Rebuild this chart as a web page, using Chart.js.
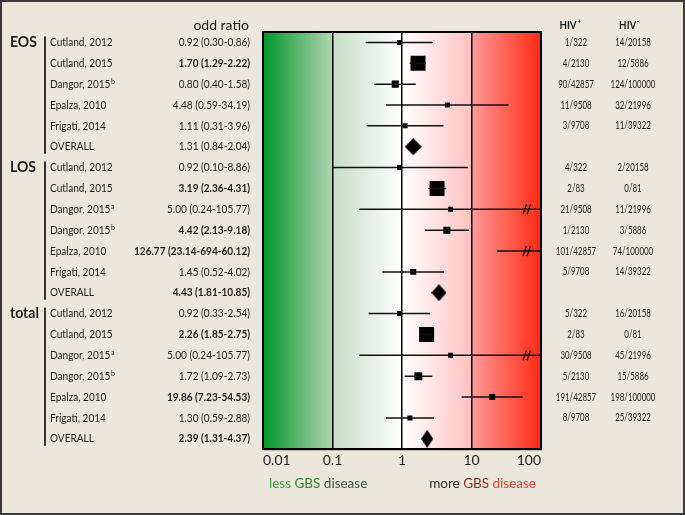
<!DOCTYPE html>
<html><head><meta charset="utf-8">
<script src="https://cdn.jsdelivr.net/npm/chart.js@4.4.1/dist/chart.umd.min.js"></script>
<style>html,body{margin:0;padding:0;background:#ebe7da;}#wrap{width:685px;height:515px;position:relative;}</style>
</head><body><div id="wrap"><canvas id="c" width="685" height="515"></canvas></div>
<script>
// ---------------- DATA ----------------
const groups = ['EOS', 'LOS', 'total'];
const groupStart = [0, 6, 13];
const groupEnd = [5, 12, 19];
const studies = ['Cutland, 2012','Cutland, 2015','Dangor, 2015','Epalza, 2010','Frigati, 2014','OVERALL',
  'Cutland, 2012','Cutland, 2015','Dangor, 2015','Dangor, 2015','Epalza, 2010','Frigati, 2014','OVERALL',
  'Cutland, 2012','Cutland, 2015','Dangor, 2015','Dangor, 2015','Epalza, 2010','Frigati, 2014','OVERALL'];
const studySup = ['','','b','','','', '','','a','b','','','', '','','a','b','','',''];
const orText = ['0.92 (0.30-0.86)','1.70 (1.29-2.22)','0.80 (0.40-1.58)','4.48 (0.59-34.19)','1.11 (0.31-3.96)','1.31 (0.84-2.04)',
  '0.92 (0.10-8.86)','3.19 (2.36-4.31)','5.00 (0.24-105.77)','4.42 (2.13-9.18)','126.77 (23.14-694-60.12)','1.45 (0.52-4.02)','4.43 (1.81-10.85)',
  '0.92 (0.33-2.54)','2.26 (1.85-2.75)','5.00 (0.24-105.77)','1.72 (1.09-2.73)','19.86 (7.23-54.53)','1.30 (0.59-2.88)','2.39 (1.31-4.37)'];
const orBold = [0,1,0,0,0,0, 0,1,0,1,1,0,1, 0,1,0,0,1,0,1];
const hivPos = ['1/322','4/2130','90/42857','11/9508','3/9708','',
  '4/322','2/83','21/9508','1/2130','101/42857','5/9708','',
  '5/322','2/83','30/9508','5/2130','191/42857','8/9708',''];
const hivNeg = ['14/20158','12/5886','124/100000','32/21996','11/39322','',
  '2/20158','0/81','11/21996','3/5886','74/100000','14/39322','',
  '16/20158','0/81','45/21996','15/5886','198/100000','25/39322',''];
// plotted estimate and interval as drawn in the figure
const orPoint = [0.92,1.70,0.80,4.48,1.11,1.45, 0.92,3.19,5.00,4.42,126.77,1.45,3.4, 0.92,2.26,5.00,1.72,19.86,1.30,2.30];
const ciLow  = [0.30,1.29,0.40,0.59,0.31,null, 0.10,2.36,0.24,2.13,23.14,0.52,null, 0.33,1.85,0.24,1.09,7.23,0.59,null];
const ciHigh = [2.8,2.22,1.58,34.19,3.96,null, 8.86,4.31,105.77,9.18,694.6,4.02,null, 2.54,2.75,105.77,2.73,54.53,2.88,null];
const weight = [1,9,2,1,1,0, 1,9,1,2,1,1.4,0, 1,9,1,2.5,1.4,1,0];
const isOverall = [0,0,0,0,0,1, 0,0,0,0,0,0,1, 0,0,0,0,0,0,1];
const breakAt = 63;
const hasBreak = [0,0,0,0,0,0, 0,0,1,0,1,0,0, 0,0,1,0,0,0,0];
const tickValues = [0.01, 0.1, 1, 10, 100];
const tickLabels = ['0.01', '0.1', '1', '10', '100'];

// ---------------- STYLE ----------------
const FONT = 'Lato, sans-serif';
const diamondW = {5: 17, 12: 15, 19: 12};
const diamondH = {5: 17, 12: 17, 19: 18};

function diamondCanvas(w, h) {
  const c = document.createElement('canvas');
  c.width = w; c.height = h;
  const g = c.getContext('2d');
  g.fillStyle = '#000';
  g.beginPath(); g.moveTo(w/2, 0); g.lineTo(w, h/2); g.lineTo(w/2, h); g.lineTo(0, h/2); g.closePath(); g.fill();
  return c;
}
function breakCanvas() {
  const c = document.createElement('canvas');
  c.width = 10; c.height = 12;
  const g = c.getContext('2d');
  g.strokeStyle = '#111'; g.lineWidth = 1.4;
  g.beginPath();
  g.moveTo(1, 11); g.lineTo(4.5, 1);
  g.moveTo(5, 11); g.lineTo(8.5, 1);
  g.stroke();
  return c;
}

const datasets = [];
for (let i = 0; i < studies.length; i++) {
  if (ciLow[i] !== null) {
    datasets.push({
      data: [{x: ciLow[i], y: i}, {x: ciHigh[i], y: i}],
      showLine: true, borderColor: '#111', borderWidth: 1.5, pointRadius: 0
    });
  }
}
const sqIdx = studies.map((s, i) => i).filter(i => !isOverall[i]);
datasets.push({
  data: sqIdx.map(i => ({x: orPoint[i], y: i})),
  pointStyle: 'rect',
  pointRadius: sqIdx.map(i => 5 * Math.sqrt(weight[i]) / Math.SQRT2),
  backgroundColor: '#000', borderColor: '#000', borderWidth: 0
});
const ovIdx = studies.map((s, i) => i).filter(i => isOverall[i]);
datasets.push({
  data: ovIdx.map(i => ({x: orPoint[i], y: i})),
  pointStyle: ovIdx.map(i => diamondCanvas(diamondW[i], diamondH[i])),
  pointRadius: 9
});
const brIdx = studies.map((s, i) => i).filter(i => hasBreak[i]);
const brImg = breakCanvas();
datasets.push({
  data: brIdx.map(i => ({x: breakAt, y: i})),
  pointStyle: brImg, pointRadius: 6
});

function lerpGrad(ctx, x0, x1, c0, c1) {
  const g = ctx.createLinearGradient(x0, 0, x1, 0);
  g.addColorStop(0, c0); g.addColorStop(1, c1);
  return g;
}

// draw text squeezed horizontally by factor sx; returns drawn width
function sText(ctx, t, x, y, align, font, sx) {
  ctx.font = font;
  const w = ctx.measureText(t).width * sx;
  let x0 = x;
  if (align === 'right') x0 = x - w;
  else if (align === 'center') x0 = x - w / 2;
  ctx.save();
  ctx.translate(x0, y);
  ctx.scale(sx, 1);
  ctx.textAlign = 'left';
  ctx.fillText(t, 0, 0);
  ctx.restore();
  return w;
}

const bgPlugin = {
  id: 'bg',
  beforeDraw(chart) {
    const ctx = chart.ctx, a = chart.chartArea, xs = chart.scales.x;
    ctx.save();
    ctx.fillStyle = '#ebe7da';
    ctx.fillRect(0, 0, chart.width, chart.height);
    ctx.strokeStyle = '#3a3a3a'; ctx.lineWidth = 2;
    ctx.strokeRect(1, 1, chart.width - 2, chart.height - 2);
    const stops = [
      ['#00962a', '#b2d5b2'],
      ['#c4dec4', '#ffffff'],
      ['#ffffff', '#ffc2c2'],
      ['#ff9a9a', '#ff2a12']
    ];
    for (let k = 0; k < 4; k++) {
      const x0 = xs.getPixelForValue(tickValues[k]);
      const x1 = xs.getPixelForValue(tickValues[k + 1]);
      ctx.fillStyle = lerpGrad(ctx, x0, x1, stops[k][0], stops[k][1]);
      ctx.fillRect(x0, a.top, x1 - x0, a.bottom - a.top);
    }
    ctx.restore();
  },
  beforeDatasetsDraw(chart) {
    const ctx = chart.ctx, a = chart.chartArea;
    ctx.save();
    ctx.strokeStyle = '#000'; ctx.lineWidth = 2;
    ctx.strokeRect(a.left, a.top, a.right - a.left, a.bottom - a.top);
    ctx.restore();
  },
  afterDraw(chart) {
    const ctx = chart.ctx, ys = chart.scales.y, a = chart.chartArea;
    const rowY = i => ys.getPixelForValue(i);
    const SX = 0.875, HX = 0.72;
    ctx.save();
    ctx.textBaseline = 'middle';
    ctx.fillStyle = '#1e1e1e';
    // header
    sText(ctx, 'odd ratio', 249, 25, 'right', `14px ${FONT}`, 1);
    // HIV headers
    function hivHeader(cx, sup) {
      ctx.font = `bold 11.5px ${FONT}`;
      const w1 = ctx.measureText('HIV').width * 0.85;
      ctx.font = `bold 8px ${FONT}`;
      const w2 = ctx.measureText(sup).width * 0.85;
      const x0 = cx - (w1 + w2) / 2;
      sText(ctx, 'HIV', x0, 25, 'left', `bold 11.5px ${FONT}`, 0.85);
      sText(ctx, sup, x0 + w1 + 0.5, 21, 'left', `bold 8px ${FONT}`, 0.85);
    }
    hivHeader(570, '+');
    hivHeader(629, '-');
    // groups
    for (let g = 0; g < groups.length; g++) {
      sText(ctx, groups[g], 10, rowY(groupStart[g]), 'left', `bold 14.5px ${FONT}`, 0.97);
      ctx.fillStyle = '#333';
      ctx.fillRect(44, rowY(groupStart[g]) - 6, 2, rowY(groupEnd[g]) - rowY(groupStart[g]) + 13);
      ctx.fillStyle = '#1e1e1e';
    }
    // rows
    for (let i = 0; i < studies.length; i++) {
      const y = rowY(i);
      const w = sText(ctx, studies[i], 50, y, 'left', `11.5px ${FONT}`, SX);
      if (studySup[i]) sText(ctx, studySup[i], 50 + w + 0.5, y - 3, 'left', `8px ${FONT}`, SX);
      sText(ctx, orText[i], 250, y, 'right', `${orBold[i] ? 'bold ' : ''}11.5px ${FONT}`, SX);
      if (hivPos[i]) sText(ctx, hivPos[i], 576, y, 'center', `11px ${FONT}`, HX);
      if (hivNeg[i]) sText(ctx, hivNeg[i], 633, y, 'center', `11px ${FONT}`, HX);
    }
    // bottom legend
    const ly = 484;
    ctx.font = `13.5px ${FONT}`;
    ctx.textAlign = 'left';
    let x = a.left + 6;
    const parts1 = [['less ', '#3f9b3f'], ['GBS ', '#2e8a2e'], ['disease', '#3e5a3e']];
    for (const [t, c] of parts1) { ctx.fillStyle = c; ctx.fillText(t, x, ly); x += ctx.measureText(t).width; }
    const parts2 = [['more ', '#2a2a2a'], ['GBS ', '#8e2a22'], ['disease', '#e5442e']];
    let tw = parts2.reduce((s, p) => s + ctx.measureText(p[0]).width, 0);
    x = a.right - 5 - tw;
    for (const [t, c] of parts2) { ctx.fillStyle = c; ctx.fillText(t, x, ly); x += ctx.measureText(t).width; }
    ctx.restore();
  }
};

new Chart(document.getElementById('c'), {
  type: 'scatter',
  data: { datasets },
  options: {
    responsive: false, animation: false, devicePixelRatio: 1,
    layout: { padding: { left: 263, right: 144, top: 32, bottom: 43 } },
    plugins: { legend: { display: false }, tooltip: { enabled: false } },
    scales: {
      x: {
        type: 'logarithmic', min: 0.01, max: 100,
        afterBuildTicks: s => { s.ticks = tickValues.map(v => ({ value: v })); },
        ticks: { callback: (v, i) => tickLabels[i], align: 'inner', color: '#1e1e1e', font: { family: FONT, size: 14 }, padding: 3, maxRotation: 0, autoSkip: false },
        grid: { color: '#000', lineWidth: 1.5, drawTicks: false },
        border: { color: '#000', width: 2 }
      },
      y: { type: 'linear', min: -0.5, max: 19.5, reverse: true, display: false }
    }
  },
  plugins: [bgPlugin]
});
</script></body></html>
